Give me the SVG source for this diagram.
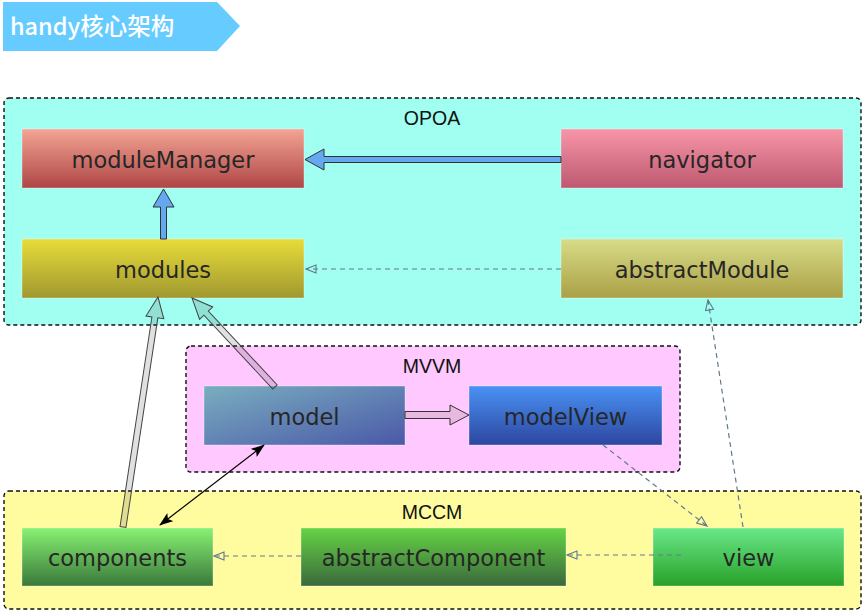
<svg xmlns="http://www.w3.org/2000/svg" width="866" height="613" viewBox="0 0 866 613">
<style>
.grp{stroke:#111;stroke-width:1.4;stroke-dasharray:4,3}
.glabel{font-family:"Liberation Sans",Arial,sans-serif;font-size:19.5px;fill:#111;text-anchor:middle}
.node rect{stroke:#ffffff;stroke-opacity:0.35;stroke-width:1}
.node text{font-family:"DejaVu Sans",Verdana,sans-serif;font-size:22.5px;fill:#262626;text-anchor:middle}
.dash{fill:none;stroke:#62798c;stroke-width:1.2;stroke-dasharray:5,4}
.block{stroke:#333;stroke-width:1}
.hollow{fill:#3c3c3c;fill-opacity:0.16;stroke:#444;stroke-width:1}
</style>
<defs>
<linearGradient id="gMM" x1="0" y1="0" x2="0" y2="1"><stop offset="0" stop-color="#f4a494"/><stop offset="1" stop-color="#ae4646"/></linearGradient>
<linearGradient id="gNav" x1="0" y1="0" x2="0" y2="1"><stop offset="0" stop-color="#f896a8"/><stop offset="1" stop-color="#bd5870"/></linearGradient>
<linearGradient id="gMod" x1="0" y1="0" x2="0" y2="1"><stop offset="0" stop-color="#e8dc3a"/><stop offset="1" stop-color="#a09830"/></linearGradient>
<linearGradient id="gAM" x1="0" y1="0" x2="0" y2="1"><stop offset="0" stop-color="#d8dc88"/><stop offset="1" stop-color="#aaa046"/></linearGradient>
<linearGradient id="gModel" x1="0" y1="0" x2="1" y2="1"><stop offset="0" stop-color="#7aaec0"/><stop offset="1" stop-color="#4a58a8"/></linearGradient>
<linearGradient id="gMV" x1="0" y1="0" x2="0" y2="1"><stop offset="0" stop-color="#4a92f4"/><stop offset="1" stop-color="#2c46a0"/></linearGradient>
<linearGradient id="gComp" x1="0" y1="0" x2="0" y2="1"><stop offset="0" stop-color="#88f272"/><stop offset="1" stop-color="#3a783a"/></linearGradient>
<linearGradient id="gAC" x1="0" y1="0" x2="0" y2="1"><stop offset="0" stop-color="#66d444"/><stop offset="1" stop-color="#3a683c"/></linearGradient>
<linearGradient id="gView" x1="0" y1="0" x2="0" y2="1"><stop offset="0" stop-color="#6ae888"/><stop offset="1" stop-color="#28a028"/></linearGradient>
<marker id="openTri" viewBox="0 0 12 10" refX="11" refY="5" markerWidth="12" markerHeight="10" markerUnits="userSpaceOnUse" orient="auto">
<path d="M1,1 L11,5 L1,9 Z" fill="none" stroke="#62798c" stroke-width="1.1"/>
</marker>
<marker id="blackTri" viewBox="0 0 14 10" refX="13" refY="5" markerWidth="14" markerHeight="10" markerUnits="userSpaceOnUse" orient="auto-start-reverse">
<path d="M0,0 L14,5 L0,10 L3,5 Z" fill="#000"/>
</marker>
</defs>

<g id="title">
<polygon points="3,2 217,2 240,26 217,51 3,51" fill="#66ccff"/>
<text x="10" y="35" font-family="'Noto Sans CJK SC','Noto Sans',sans-serif" font-size="23.5" font-weight="500" fill="#ffffff">handy核心架构</text>
</g>

<g id="opoa">
<rect x="4" y="98" width="857" height="227" rx="5" fill="#a0fff0" class="grp"/>
<text x="432" y="125" class="glabel">OPOA</text>
</g>
<g id="mvvm">
<rect x="186" y="346" width="494" height="126" rx="5" fill="#ffc8ff" class="grp"/>
<text x="432" y="373" class="glabel">MVVM</text>
</g>
<g id="mccm">
<rect x="4" y="491" width="857" height="118" rx="5" fill="#fffca0" class="grp"/>
<text x="432" y="519" class="glabel">MCCM</text>
</g>

<g id="moduleManager" class="node"><rect x="22" y="129" width="282" height="59" fill="url(#gMM)"/><text x="163" y="168">moduleManager</text></g>
<g id="navigator" class="node"><rect x="561" y="129" width="282" height="59" fill="url(#gNav)"/><text x="702" y="168">navigator</text></g>
<g id="modules" class="node"><rect x="22" y="239" width="282" height="59" fill="url(#gMod)"/><text x="163" y="278">modules</text></g>
<g id="abstractModule" class="node"><rect x="561" y="239" width="282" height="59" fill="url(#gAM)"/><text x="702" y="278">abstractModule</text></g>
<g id="model" class="node"><rect x="204" y="386" width="201" height="59" fill="url(#gModel)"/><text x="304.5" y="425">model</text></g>
<g id="modelView" class="node"><rect x="469" y="386" width="193" height="59" fill="url(#gMV)"/><text x="565.5" y="425">modelView</text></g>
<g id="components" class="node"><rect x="22" y="528" width="191" height="58" fill="url(#gComp)"/><text x="117.5" y="566">components</text></g>
<g id="abstractComponent" class="node"><rect x="301" y="528" width="265" height="58" fill="url(#gAC)"/><text x="433.5" y="566">abstractComponent</text></g>
<g id="view" class="node"><rect x="653" y="528" width="191" height="58" fill="url(#gView)"/><text x="748.5" y="566">view</text></g>

<g id="connectors">
<polygon class="block" fill="#64a8f0" points="561,156.5 324,156.5 324,149 305,159.5 324,170 324,162.5 561,162.5"/>
<polygon class="block" fill="#64a8f0" points="160.5,239 160.5,207 153,207 163.5,189 174,207 166.5,207 166.5,239"/>
<polygon class="block" fill="#e8b8e0" points="405,411.5 450,411.5 450,405 469,415 450,425 450,418.5 405,418.5"/>
<g transform="translate(123,527) rotate(-81.35)"><polygon class="hollow" points="0,-3 212,-3 212,-9 232.6,0 212,9 212,3 0,3"/></g>
<g transform="translate(275,387) rotate(-133)"><polygon class="hollow" points="0,-3 101,-3 101,-9 121.7,0 101,9 101,3 0,3"/></g>
<line x1="160" y1="525" x2="264" y2="445" stroke="#000" stroke-width="1.2" marker-start="url(#blackTri)" marker-end="url(#blackTri)"/>
<line class="dash" x1="561" y1="269" x2="306" y2="269" marker-end="url(#openTri)"/>
<line class="dash" x1="301" y1="556" x2="214" y2="556" marker-end="url(#openTri)"/>
<line class="dash" x1="681" y1="555" x2="567" y2="555" marker-end="url(#openTri)"/>
<line class="dash" x1="603" y1="445" x2="707" y2="526" marker-end="url(#openTri)"/>
<line class="dash" x1="743" y1="527" x2="708" y2="300" marker-end="url(#openTri)"/>
</g>
</svg>
